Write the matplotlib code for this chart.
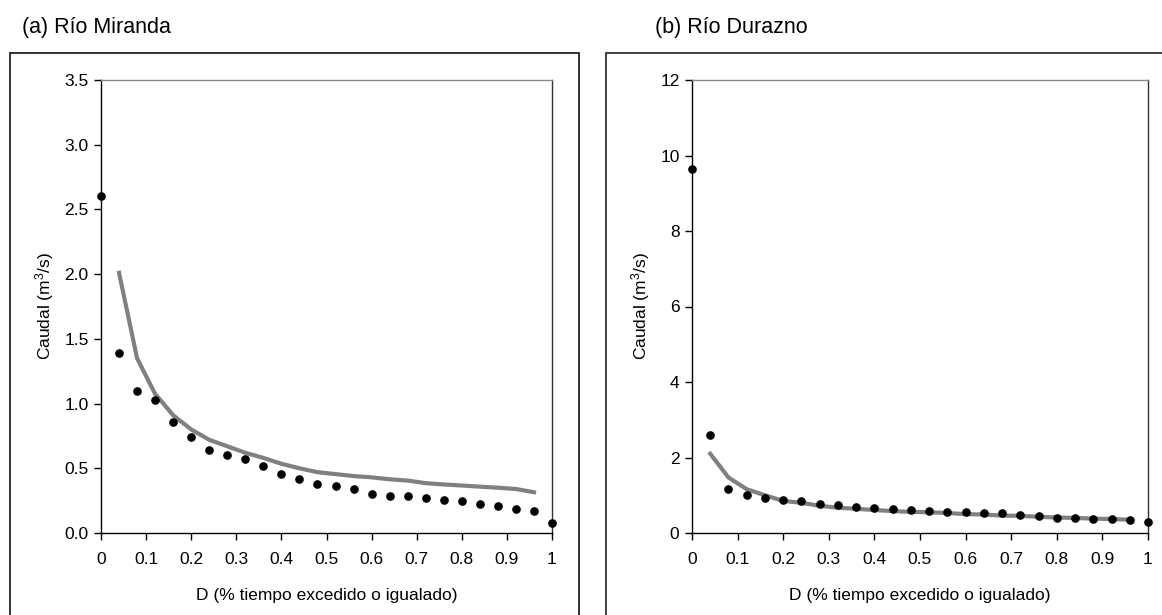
import matplotlib
matplotlib.use("Agg")
import matplotlib.pyplot as plt
from matplotlib.patches import Rectangle

plt.rcParams['font.family'] = ['Liberation Sans', 'DejaVu Sans']
plt.rcParams['mathtext.default'] = 'regular'

# probabilidad de excedencia
d_puntos = [0.00, 0.04, 0.08, 0.12, 0.16, 0.20, 0.24, 0.28, 0.32, 0.36, 0.40, 0.44, 0.48,
            0.52, 0.56, 0.60, 0.64, 0.68, 0.72, 0.76, 0.80, 0.84, 0.88, 0.92, 0.96, 1.00]
d_linea = d_puntos[1:-1]

# (a) Rio Miranda
miranda_obs = [2.60, 1.39, 1.10, 1.03, 0.855, 0.74, 0.645, 0.60, 0.57, 0.52, 0.455, 0.415, 0.375,
               0.36, 0.34, 0.30, 0.283, 0.283, 0.27, 0.253, 0.244, 0.223, 0.205, 0.187, 0.169, 0.081]
miranda_sim = [2.01, 1.35, 1.075, 0.91, 0.80, 0.72, 0.67, 0.62, 0.58, 0.535, 0.50, 0.47,
               0.455, 0.44, 0.43, 0.415, 0.405, 0.385, 0.375, 0.367, 0.358, 0.35, 0.34, 0.315]

# (b) Rio Durazno
durazno_obs = [9.63, 2.60, 1.16, 1.00, 0.93, 0.87, 0.84, 0.775, 0.73, 0.70, 0.67, 0.64, 0.61,
               0.58, 0.55, 0.55, 0.52, 0.52, 0.49, 0.44, 0.41, 0.41, 0.38, 0.38, 0.35, 0.29]
durazno_sim = [2.10, 1.47, 1.16, 1.00, 0.85, 0.80, 0.72, 0.67, 0.64, 0.61, 0.58, 0.56,
               0.55, 0.53, 0.50, 0.49, 0.46, 0.455, 0.43, 0.41, 0.40, 0.38, 0.37, 0.35]

x_ticks = [0, 0.1, 0.2, 0.3, 0.4, 0.5, 0.6, 0.7, 0.8, 0.9, 1]
x_labels = ['0', '0.1', '0.2', '0.3', '0.4', '0.5', '0.6', '0.7', '0.8', '0.9', '1']

W, H = 1162, 615
fig = plt.figure(figsize=(W / 100, H / 100), dpi=100)

# marcos exteriores
fig.patches.append(Rectangle((10 / W, -0.1), 569 / W, 1.1 - 53 / H, transform=fig.transFigure,
                             fill=False, edgecolor='#222222', linewidth=1.3))
fig.patches.append(Rectangle((606 / W, -0.1), 0.6, 1.1 - 53 / H, transform=fig.transFigure,
                             fill=False, edgecolor='#333333', linewidth=1.3))

paneles = [
    dict(pos=[101 / W, 82 / H, 451 / W, 453 / H], obs=miranda_obs, sim=miranda_sim,
         ylim=(0, 3.5), yticks=[0, 0.5, 1.0, 1.5, 2.0, 2.5, 3.0, 3.5], fmt='{:.1f}',
         titulo='(a) Río Miranda', tx=22),
    dict(pos=[692 / W, 82 / H, 456 / W, 453 / H], obs=durazno_obs, sim=durazno_sim,
         ylim=(0, 12), yticks=[0, 2, 4, 6, 8, 10, 12], fmt='{:.0f}',
         titulo='(b) Río Durazno', tx=655),
]

for p in paneles:
    ax = fig.add_axes(p['pos'])
    ax.plot(d_linea, p['sim'], color='#808080', linewidth=3, zorder=2)
    ax.plot(d_puntos, p['obs'], 'o', color='black', markersize=5.2, linestyle='none',
            clip_on=False, zorder=3)
    ax.set_xlim(0, 1)
    ax.set_ylim(*p['ylim'])
    ax.set_xticks(x_ticks)
    ax.set_xticklabels(x_labels)
    ax.set_yticks(p['yticks'])
    ax.set_yticklabels([p['fmt'].format(v) for v in p['yticks']])
    ax.tick_params(direction='out', length=5, width=1, labelsize=12.5, pad=4)
    ax.tick_params(axis='x', pad=9)
    ax.spines['left'].set_color('black')
    ax.spines['bottom'].set_color('black')
    ax.spines['top'].set_color('#888888')
    ax.spines['right'].set_color('#333333')
    for s in ax.spines.values():
        s.set_linewidth(1)
    ax.set_xlabel('D (% tiempo excedido o igualado)', fontsize=12.5, labelpad=15)
    ax.set_ylabel('Caudal (m$^3$/s)', fontsize=12.5, labelpad=6)
    fig.text(p['tx'] / W, 1 - 28 / H, p['titulo'], fontsize=15.5, ha='left', va='center')

fig.savefig('out.png', dpi=100)
